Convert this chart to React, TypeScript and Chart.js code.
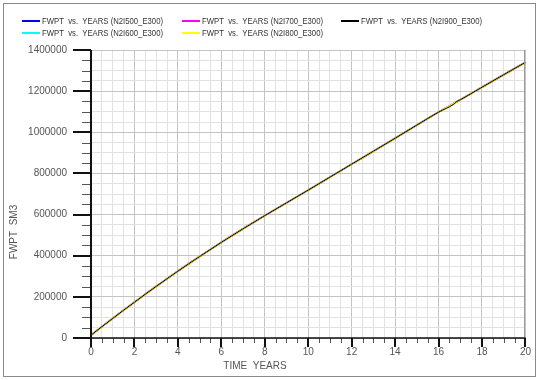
import React, { useEffect, useRef } from "react";
import { Chart, registerables } from "chart.js";

Chart.register(...registerables);

const YEARS = [0, 0.5, 1, 1.5, 2, 2.5, 3, 3.5, 4, 4.5, 5, 6, 7, 8, 9, 10, 11, 12, 13, 14, 15, 16, 16.7, 16.8, 17, 18, 19, 20];
const FWPT_N2I500 = [14000, 55000, 95000, 135000, 174000, 213000, 251000, 288000, 325000, 361000, 396000, 465000, 531000, 595000, 657000, 719000, 782000, 845000, 908000, 971000, 1035000, 1098000, 1140000, 1146000, 1158000, 1219000, 1280000, 1340000];
const FWPT_N2I600 = [14000, 55000, 95000, 135000, 174000, 213000, 251000, 288000, 325000, 361000, 396000, 465000, 531000, 595000, 657000, 719000, 782000, 845000, 908000, 971000, 1035000, 1098000, 1139000, 1145000, 1158000, 1219000, 1280000, 1340000];
const FWPT_N2I700 = [14000, 55000, 95000, 135000, 174000, 213000, 251000, 288000, 325000, 361000, 396000, 465000, 531000, 595000, 657000, 719000, 782000, 845000, 908000, 971000, 1035000, 1098000, 1140000, 1146000, 1158000, 1219000, 1280000, 1340000];
const FWPT_N2I800 = [14000, 55000, 95000, 135000, 174000, 213000, 251000, 288000, 325000, 361000, 396000, 465000, 531000, 595000, 657000, 719000, 782000, 845000, 908000, 971000, 1035000, 1098000, 1140000, 1146000, 1158000, 1219000, 1280000, 1340000];
const FWPT_N2I900 = [14000, 55000, 95000, 135000, 174000, 213000, 251000, 288000, 325000, 361000, 396000, 465000, 531000, 595000, 657000, 719000, 782000, 845000, 908000, 971000, 1035000, 1098000, 1137000, 1147000, 1158000, 1219000, 1280000, 1340000];

const SERIES_LABELS = [
  "FWPT  vs.  YEARS (N2I500_E300)",
  "FWPT  vs.  YEARS (N2I600_E300)",
  "FWPT  vs.  YEARS (N2I700_E300)",
  "FWPT  vs.  YEARS (N2I800_E300)",
  "FWPT  vs.  YEARS (N2I900_E300)",
];
const SERIES_COLORS = ["#0000ff", "#00ffff", "#ff00ff", "#ffff00", "#000000"];
const SERIES_VALUES = [FWPT_N2I500, FWPT_N2I600, FWPT_N2I700, FWPT_N2I800, FWPT_N2I900];
const SERIES_WIDTHS = [1.6, 1.6, 1.6, 1.6, 1];
const SERIES_ORDER = [4, 3, 2, 1, 0];

const X_TITLE = "TIME  YEARS";
const Y_TITLE = "FWPT  SM3";
const X_MAX = 20;
const Y_MAX = 1400000;
const X_STEP = 0.5;
const Y_STEP = 50000;
const X_MAJOR = 2;
const Y_MAJOR = 200000;

const FONT = '"Liberation Sans", Arial, sans-serif';

const decorPlugin = {
  id: "decor",
  afterDraw(chart: any) {
    const ctx = chart.ctx;
    const area = chart.chartArea;
    const xs = chart.scales.x;
    const ys = chart.scales.y;
    ctx.save();

    // outer frame
    ctx.strokeStyle = "#8a8a8a";
    ctx.lineWidth = 1;
    ctx.strokeRect(3.5, 3.5, chart.width - 7, chart.height - 7);

    // plot right border
    ctx.strokeStyle = "#9a9a9a";
    ctx.beginPath();
    ctx.moveTo(Math.round(area.right) - 0.5, area.top);
    ctx.lineTo(Math.round(area.right) - 0.5, area.bottom);
    ctx.stroke();

    // y ticks
    ys.ticks.forEach((t: any) => {
      const py = ys.getPixelForValue(t.value);
      const major = t.value % Y_MAJOR === 0;
      ctx.strokeStyle = major ? "#111" : "#555";
      ctx.lineWidth = major ? 2 : 1;
      const yy = major ? Math.round(py) : Math.round(py) + 0.5;
      ctx.beginPath();
      ctx.moveTo(area.left - (major ? 18 : 9), yy);
      ctx.lineTo(area.left, yy);
      ctx.stroke();
    });
    // x ticks
    xs.ticks.forEach((t: any) => {
      const px = xs.getPixelForValue(t.value);
      const major = t.value % X_MAJOR === 0;
      ctx.strokeStyle = major ? "#111" : "#555";
      ctx.lineWidth = major ? 2 : 1;
      const xx = major ? Math.round(px) : Math.round(px) + 0.5;
      ctx.beginPath();
      ctx.moveTo(xx, area.bottom);
      ctx.lineTo(xx, area.bottom + (major ? 9 : 5));
      ctx.stroke();
    });

    // axes
    ctx.strokeStyle = "#111";
    ctx.lineWidth = 2;
    ctx.beginPath();
    ctx.moveTo(Math.round(area.left), area.top);
    ctx.lineTo(Math.round(area.left), area.bottom);
    ctx.stroke();
    ctx.lineWidth = 1.5;
    ctx.beginPath();
    ctx.moveTo(area.left, Math.round(area.bottom));
    ctx.lineTo(area.right, Math.round(area.bottom));
    ctx.stroke();

    // axis titles
    ctx.fillStyle = "#555";
    ctx.font = "10px " + FONT;
    ctx.textAlign = "center";
    ctx.textBaseline = "middle";
    ctx.fillText(X_TITLE, 255, 366);
    ctx.save();
    ctx.translate(14, 232);
    ctx.rotate(-Math.PI / 2);
    ctx.fillText(Y_TITLE, 0, 0);
    ctx.restore();

    // legend
    const colX = [22, 182, 341];
    const rowY = [21, 33];
    chart.data.datasets.forEach((ds: any, i: number) => {
      const x = colX[Math.floor(i / 2)];
      const y = rowY[i % 2];
      ctx.strokeStyle = ds.borderColor;
      ctx.lineWidth = 2;
      ctx.beginPath();
      ctx.moveTo(x, y);
      ctx.lineTo(x + 18, y);
      ctx.stroke();
      ctx.font = "9px " + FONT;
      ctx.fillStyle = "#333";
      ctx.textAlign = "left";
      ctx.textBaseline = "middle";
      const w = ctx.measureText(ds.label).width;
      const sx = Math.min(1, 121 / w);
      ctx.save();
      ctx.translate(x + 20, y + 0.5);
      ctx.scale(sx, 1);
      ctx.fillText(ds.label, 0, 0);
      ctx.restore();
    });

    ctx.restore();
  },
};

export default function App() {
  const ref = useRef<HTMLCanvasElement | null>(null);
  useEffect(() => {
    document.body.style.margin = "0";
    const canvas = ref.current;
    if (!canvas) return;
    const datasets = SERIES_VALUES.map((vals, i) => ({
      label: SERIES_LABELS[i],
      data: YEARS.map((x, j) => ({ x, y: vals[j] })),
      borderColor: SERIES_COLORS[i],
      backgroundColor: SERIES_COLORS[i],
      borderWidth: SERIES_WIDTHS[i],
      pointRadius: 0,
      cubicInterpolationMode: "monotone" as const,
      order: SERIES_ORDER[i],
      fill: false,
    }));
    const chart = new Chart(canvas, {
      type: "line",
      data: { datasets },
      options: {
        animation: false,
        responsive: false,
        events: [],
        layout: { padding: { left: 0, top: 50, right: 6, bottom: 0 } },
        plugins: { legend: { display: false }, tooltip: { enabled: false } },
        scales: {
          x: {
            type: "linear",
            min: 0,
            max: X_MAX,
            border: { display: false },
            grid: {
              drawTicks: false,
              color: (c: any) => (c.tick && c.tick.value % X_MAJOR === 0 ? "#c4c4c4" : "#e2e2e2"),
              lineWidth: 1,
            },
            ticks: {
              stepSize: X_STEP,
              autoSkip: false,
              maxRotation: 0,
              padding: 8,
              color: "#555",
              font: { family: FONT, size: 10 },
              callback: (v: any) => (Number(v) % X_MAJOR === 0 ? String(v) : ""),
            },
            afterFit: (s: any) => {
              s.height = 42;
            },
          },
          y: {
            type: "linear",
            min: 0,
            max: Y_MAX,
            border: { display: false },
            grid: {
              drawTicks: false,
              color: (c: any) => (c.tick && c.tick.value % Y_MAJOR === 0 ? "#c4c4c4" : "#e2e2e2"),
              lineWidth: 1,
            },
            ticks: {
              stepSize: Y_STEP,
              autoSkip: false,
              padding: 24,
              color: "#555",
              font: { family: FONT, size: 10 },
              callback: (v: any) => (Number(v) % Y_MAJOR === 0 ? String(v) : ""),
            },
            afterFit: (s: any) => {
              s.width = 91;
            },
          },
        },
      },
      plugins: [decorPlugin],
    });
    return () => chart.destroy();
  }, []);
  return (
    <div style={{ width: 539, height: 380, background: "#fff" }}>
      <canvas ref={ref} width={539} height={380} style={{ display: "block" }} />
    </div>
  );
}
